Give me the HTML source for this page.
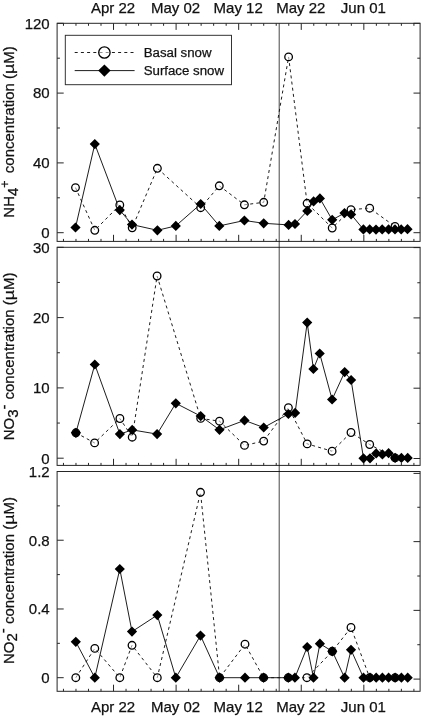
<!DOCTYPE html>
<html lang="en"><head><meta charset="utf-8"><title>Snow nutrient concentrations</title>
<style>
html,body{margin:0;padding:0;background:#fff}
body{width:422px;height:717px;overflow:hidden}
svg{display:block}
text{font-family:"Liberation Sans",Arial,Helvetica,sans-serif;fill:#111;stroke:#111;stroke-width:.25px}
.t{font-size:15px}
.lg{font-size:13.25px}
.ax{stroke:#262626;stroke-width:1.0;fill:none}
.sl{stroke:#111;stroke-width:.95;fill:none}
.dl{stroke:#111;stroke-width:.95;fill:none;stroke-dasharray:3 3.2}
.c{fill:rgba(255,255,255,.5);stroke:#000;stroke-width:1.3}
.d{fill:#000;stroke:none}
</style></head><body>
<svg width="422" height="717" viewBox="0 0 422 717">
<rect width="422" height="717" fill="#fff"/>
<g class="ax">
<rect x="57.1" y="23.3" width="363" height="218.1" fill="none"/>
<path d="M63.46 23.3v2.5M63.46 241.4v-2.5M75.97 23.3v2.5M75.97 241.4v-2.5M88.49 23.3v2.5M88.49 241.4v-2.5M101.01 23.3v2.5M101.01 241.4v-2.5M113.52 23.3v6.6M113.52 241.4v-6.6M126.04 23.3v2.5M126.04 241.4v-2.5M138.55 23.3v2.5M138.55 241.4v-2.5M151.07 23.3v2.5M151.07 241.4v-2.5M163.59 23.3v2.5M163.59 241.4v-2.5M176.1 23.3v6.6M176.1 241.4v-6.6M188.62 23.3v2.5M188.62 241.4v-2.5M201.13 23.3v2.5M201.13 241.4v-2.5M213.65 23.3v2.5M213.65 241.4v-2.5M226.17 23.3v2.5M226.17 241.4v-2.5M238.68 23.3v6.6M238.68 241.4v-6.6M251.2 23.3v2.5M251.2 241.4v-2.5M263.71 23.3v2.5M263.71 241.4v-2.5M276.23 23.3v2.5M276.23 241.4v-2.5M288.75 23.3v2.5M288.75 241.4v-2.5M301.26 23.3v6.6M301.26 241.4v-6.6M313.78 23.3v2.5M313.78 241.4v-2.5M326.29 23.3v2.5M326.29 241.4v-2.5M338.81 23.3v2.5M338.81 241.4v-2.5M351.33 23.3v2.5M351.33 241.4v-2.5M363.84 23.3v6.6M363.84 241.4v-6.6M376.36 23.3v2.5M376.36 241.4v-2.5M388.87 23.3v2.5M388.87 241.4v-2.5M401.39 23.3v2.5M401.39 241.4v-2.5M413.91 23.3v2.5M413.91 241.4v-2.5M57.1 232.7h6.6M420.1 232.7h-6.6M57.1 197.8h2.8M420.1 197.8h-2.8M57.1 162.9h6.6M420.1 162.9h-6.6M57.1 128h2.8M420.1 128h-2.8M57.1 93.1h6.6M420.1 93.1h-6.6M57.1 58.2h2.8M420.1 58.2h-2.8M57.1 23.3h6.6M420.1 23.3h-6.6"/>
</g>
<g class="ax">
<rect x="57.1" y="247.3" width="363" height="218.1" fill="none"/>
<path d="M63.46 465.4v-2.5M75.97 465.4v-2.5M88.49 465.4v-2.5M101.01 465.4v-2.5M113.52 465.4v-6.6M126.04 465.4v-2.5M138.55 465.4v-2.5M151.07 465.4v-2.5M163.59 465.4v-2.5M176.1 465.4v-6.6M188.62 465.4v-2.5M201.13 465.4v-2.5M213.65 465.4v-2.5M226.17 465.4v-2.5M238.68 465.4v-6.6M251.2 465.4v-2.5M263.71 465.4v-2.5M276.23 465.4v-2.5M288.75 465.4v-2.5M301.26 465.4v-6.6M313.78 465.4v-2.5M326.29 465.4v-2.5M338.81 465.4v-2.5M351.33 465.4v-2.5M363.84 465.4v-6.6M376.36 465.4v-2.5M388.87 465.4v-2.5M401.39 465.4v-2.5M413.91 465.4v-2.5M57.1 458.2h6.6M420.1 458.5h-6.6M57.1 423.05h2.8M420.1 423.35h-2.8M57.1 387.9h6.6M420.1 388.2h-6.6M57.1 352.75h2.8M420.1 353.05h-2.8M57.1 317.6h6.6M420.1 317.9h-6.6M57.1 282.45h2.8M420.1 282.75h-2.8M57.1 247.3h6.6M420.1 247.6h-6.6"/>
</g>
<g class="ax">
<rect x="57.1" y="471.5" width="363" height="219.8" fill="none"/>
<path d="M63.46 691.3v-2.5M75.97 691.3v-2.5M88.49 691.3v-2.5M101.01 691.3v-2.5M113.52 691.3v-6.6M126.04 691.3v-2.5M138.55 691.3v-2.5M151.07 691.3v-2.5M163.59 691.3v-2.5M176.1 691.3v-6.6M188.62 691.3v-2.5M201.13 691.3v-2.5M213.65 691.3v-2.5M226.17 691.3v-2.5M238.68 691.3v-6.6M251.2 691.3v-2.5M263.71 691.3v-2.5M276.23 691.3v-2.5M288.75 691.3v-2.5M301.26 691.3v-6.6M313.78 691.3v-2.5M326.29 691.3v-2.5M338.81 691.3v-2.5M351.33 691.3v-2.5M363.84 691.3v-6.6M376.36 691.3v-2.5M388.87 691.3v-2.5M401.39 691.3v-2.5M413.91 691.3v-2.5M57.1 677.7h6.6M420.1 679.1h-6.6M57.1 643.33h2.8M420.1 644.73h-2.8M57.1 608.97h6.6M420.1 610.37h-6.6M57.1 574.6h2.8M420.1 576h-2.8M57.1 540.23h6.6M420.1 541.63h-6.6M57.1 505.87h2.8M420.1 507.27h-2.8M57.1 471.5h6.6M420.1 473.4h-6.6"/>
</g>
<line x1="279.2" y1="23.3" x2="279.2" y2="691.3" stroke="#111" stroke-width=".78"/>
<polyline class="dl" points="75.5,187.6 94.8,230.3 119.8,205 132.2,227.8 157.4,168.3 200.7,207.7 219.3,185.8 244.4,204.8 263.7,202.3 288.6,56.9 307.1,203.3 332.2,228 351.0,209.6 369.7,208.2 395,226.5"/>
<polyline class="sl" points="75.5,227.5 94.8,144.1 119.8,210.1 132.0,224.6 157.4,230.3 175.8,225.9 200.7,204 219.3,225.9 244.4,220.5 263.7,223.3 288.6,224.9 295,224 307.3,210.9 313.6,201.4 319.9,198.4 332.2,219.8 344.5,213.1 351.1,214.4 363.4,229.4 369.7,229.4 376,229.6 382.2,229.4 388.6,229.4 395,229.4 401.2,229.4 407.5,229.2"/>
<circle class="c" cx="75.5" cy="187.6" r="3.8"/>
<circle class="c" cx="94.8" cy="230.3" r="3.8"/>
<circle class="c" cx="119.8" cy="205" r="3.8"/>
<circle class="c" cx="132.2" cy="227.8" r="3.8"/>
<circle class="c" cx="157.4" cy="168.3" r="3.8"/>
<circle class="c" cx="200.7" cy="207.7" r="3.8"/>
<circle class="c" cx="219.3" cy="185.8" r="3.8"/>
<circle class="c" cx="244.4" cy="204.8" r="3.8"/>
<circle class="c" cx="263.7" cy="202.3" r="3.8"/>
<circle class="c" cx="288.6" cy="56.9" r="3.8"/>
<circle class="c" cx="307.1" cy="203.3" r="3.8"/>
<circle class="c" cx="332.2" cy="228" r="3.8"/>
<circle class="c" cx="351.0" cy="209.6" r="3.8"/>
<circle class="c" cx="369.7" cy="208.2" r="3.8"/>
<circle class="c" cx="395" cy="226.5" r="3.8"/>
<path class="d" d="M70.4 227.5L75.5 222.4L80.6 227.5L75.5 232.6ZM89.7 144.1L94.8 139L99.9 144.1L94.8 149.2ZM114.7 210.1L119.8 205L124.9 210.1L119.8 215.2ZM126.9 224.6L132.0 219.5L137.1 224.6L132.0 229.7ZM152.3 230.3L157.4 225.2L162.5 230.3L157.4 235.4ZM170.7 225.9L175.8 220.8L180.9 225.9L175.8 231ZM195.6 204L200.7 198.9L205.8 204L200.7 209.1ZM214.2 225.9L219.3 220.8L224.4 225.9L219.3 231ZM239.3 220.5L244.4 215.4L249.5 220.5L244.4 225.6ZM258.6 223.3L263.7 218.2L268.8 223.3L263.7 228.4ZM283.5 224.9L288.6 219.8L293.7 224.9L288.6 230ZM289.9 224L295 218.9L300.1 224L295 229.1ZM302.2 210.9L307.3 205.8L312.4 210.9L307.3 216ZM308.5 201.4L313.6 196.3L318.7 201.4L313.6 206.5ZM314.8 198.4L319.9 193.3L325 198.4L319.9 203.5ZM327.1 219.8L332.2 214.7L337.3 219.8L332.2 224.9ZM339.4 213.1L344.5 208L349.6 213.1L344.5 218.2ZM346 214.4L351.1 209.3L356.2 214.4L351.1 219.5ZM358.3 229.4L363.4 224.3L368.5 229.4L363.4 234.5ZM364.6 229.4L369.7 224.3L374.8 229.4L369.7 234.5ZM370.9 229.6L376 224.5L381.1 229.6L376 234.7ZM377.1 229.4L382.2 224.3L387.3 229.4L382.2 234.5ZM383.5 229.4L388.6 224.3L393.7 229.4L388.6 234.5ZM389.9 229.4L395 224.3L400.1 229.4L395 234.5ZM396.1 229.4L401.2 224.3L406.3 229.4L401.2 234.5ZM402.4 229.2L407.5 224.1L412.6 229.2L407.5 234.3Z"/>
<polyline class="dl" points="75.9,432.8 94.6,442.9 119.9,418.5 132.2,437.2 157.1,276 200.7,418.4 219.5,421.2 244.5,445.4 263.7,441.1 288.4,407.7 307.2,443.9 332.1,451.2 351.0,432.5 369.7,444.5 395.1,457.9"/>
<polyline class="sl" points="75.9,432.8 94.8,364.5 119.9,434.1 132.2,429.9 157.1,434.1 175.8,403.3 200.7,416.1 219.5,429.8 244.5,420.4 263.7,427.5 288.4,414 295.1,412.9 307.2,322.6 313.4,369 319.7,353.5 332.1,399.5 344.7,372.1 351.1,380 363.5,458.3 370,458.3 376.2,453.4 382.4,454.4 388.6,453.2 395.1,457.9 401.4,457.9 407.7,457.9"/>
<circle class="c" cx="75.9" cy="432.8" r="3.8"/>
<circle class="c" cx="94.6" cy="442.9" r="3.8"/>
<circle class="c" cx="119.9" cy="418.5" r="3.8"/>
<circle class="c" cx="132.2" cy="437.2" r="3.8"/>
<circle class="c" cx="157.1" cy="276" r="3.8"/>
<circle class="c" cx="200.7" cy="418.4" r="3.8"/>
<circle class="c" cx="219.5" cy="421.2" r="3.8"/>
<circle class="c" cx="244.5" cy="445.4" r="3.8"/>
<circle class="c" cx="263.7" cy="441.1" r="3.8"/>
<circle class="c" cx="288.4" cy="407.7" r="3.8"/>
<circle class="c" cx="307.2" cy="443.9" r="3.8"/>
<circle class="c" cx="332.1" cy="451.2" r="3.8"/>
<circle class="c" cx="351.0" cy="432.5" r="3.8"/>
<circle class="c" cx="369.7" cy="444.5" r="3.8"/>
<circle class="c" cx="395.1" cy="457.9" r="3.8"/>
<path class="d" d="M70.8 432.8L75.9 427.7L81 432.8L75.9 437.9ZM89.7 364.5L94.8 359.4L99.9 364.5L94.8 369.6ZM114.8 434.1L119.9 429L125 434.1L119.9 439.2ZM127.1 429.9L132.2 424.8L137.3 429.9L132.2 435ZM152 434.1L157.1 429L162.2 434.1L157.1 439.2ZM170.7 403.3L175.8 398.2L180.9 403.3L175.8 408.4ZM195.6 416.1L200.7 411L205.8 416.1L200.7 421.2ZM214.4 429.8L219.5 424.7L224.6 429.8L219.5 434.9ZM239.4 420.4L244.5 415.3L249.6 420.4L244.5 425.5ZM258.6 427.5L263.7 422.4L268.8 427.5L263.7 432.6ZM283.3 414L288.4 408.9L293.5 414L288.4 419.1ZM290 412.9L295.1 407.8L300.2 412.9L295.1 418ZM302.1 322.6L307.2 317.5L312.3 322.6L307.2 327.7ZM308.3 369L313.4 363.9L318.5 369L313.4 374.1ZM314.6 353.5L319.7 348.4L324.8 353.5L319.7 358.6ZM327 399.5L332.1 394.4L337.2 399.5L332.1 404.6ZM339.6 372.1L344.7 367L349.8 372.1L344.7 377.2ZM346 380L351.1 374.9L356.2 380L351.1 385.1ZM358.4 458.3L363.5 453.2L368.6 458.3L363.5 463.4ZM364.9 458.3L370 453.2L375.1 458.3L370 463.4ZM371.1 453.4L376.2 448.3L381.3 453.4L376.2 458.5ZM377.3 454.4L382.4 449.3L387.5 454.4L382.4 459.5ZM383.5 453.2L388.6 448.1L393.7 453.2L388.6 458.3ZM390 457.9L395.1 452.8L400.2 457.9L395.1 463ZM396.3 457.9L401.4 452.8L406.5 457.9L401.4 463ZM402.6 457.9L407.7 452.8L412.8 457.9L407.7 463Z"/>
<polyline class="dl" points="75.8,677.7 94.8,648.4 119.8,677.7 132,645.3 157.3,677.7 200.5,492.3 219.6,677.7 245.0,644.2 263.6,677.7 288.3,677.7 306.9,677.7 332.3,651.3 351.0,627.5 369.7,677.7 395.1,677.7"/>
<polyline class="sl" points="75.8,641.8 94.8,677.7 119.8,569 132,631.6 157.3,615.1 175.8,677.7 200.5,635.6 219.6,677.7 245.0,677.7 263.6,677.7 288.3,677.7 294.9,677.7 307.2,647 313.5,677.7 319.9,643.7 332.3,651.3 344.6,677.7 351.0,649.8 363.5,677.7 370,677.7 376.2,677.7 382.4,677.7 388.6,677.7 395.1,677.7 401.4,677.7 407.7,677.7"/>
<circle class="c" cx="75.8" cy="677.7" r="3.8"/>
<circle class="c" cx="94.8" cy="648.4" r="3.8"/>
<circle class="c" cx="119.8" cy="677.7" r="3.8"/>
<circle class="c" cx="132" cy="645.3" r="3.8"/>
<circle class="c" cx="157.3" cy="677.7" r="3.8"/>
<circle class="c" cx="200.5" cy="492.3" r="3.8"/>
<circle class="c" cx="219.6" cy="677.7" r="3.8"/>
<circle class="c" cx="245.0" cy="644.2" r="3.8"/>
<circle class="c" cx="263.6" cy="677.7" r="3.8"/>
<circle class="c" cx="288.3" cy="677.7" r="3.8"/>
<circle class="c" cx="306.9" cy="677.7" r="3.8"/>
<circle class="c" cx="332.3" cy="651.3" r="3.8"/>
<circle class="c" cx="351.0" cy="627.5" r="3.8"/>
<circle class="c" cx="369.7" cy="677.7" r="3.8"/>
<circle class="c" cx="395.1" cy="677.7" r="3.8"/>
<path class="d" d="M70.7 641.8L75.8 636.7L80.9 641.8L75.8 646.9ZM89.7 677.7L94.8 672.6L99.9 677.7L94.8 682.8ZM114.7 569L119.8 563.9L124.9 569L119.8 574.1ZM126.9 631.6L132 626.5L137.1 631.6L132 636.7ZM152.2 615.1L157.3 610L162.4 615.1L157.3 620.2ZM170.7 677.7L175.8 672.6L180.9 677.7L175.8 682.8ZM195.4 635.6L200.5 630.5L205.6 635.6L200.5 640.7ZM214.5 677.7L219.6 672.6L224.7 677.7L219.6 682.8ZM239.9 677.7L245.0 672.6L250.1 677.7L245.0 682.8ZM258.5 677.7L263.6 672.6L268.7 677.7L263.6 682.8ZM283.2 677.7L288.3 672.6L293.4 677.7L288.3 682.8ZM289.8 677.7L294.9 672.6L300 677.7L294.9 682.8ZM302.1 647L307.2 641.9L312.3 647L307.2 652.1ZM308.4 677.7L313.5 672.6L318.6 677.7L313.5 682.8ZM314.8 643.7L319.9 638.6L325 643.7L319.9 648.8ZM327.2 651.3L332.3 646.2L337.4 651.3L332.3 656.4ZM339.5 677.7L344.6 672.6L349.7 677.7L344.6 682.8ZM345.9 649.8L351.0 644.7L356.1 649.8L351.0 654.9ZM358.4 677.7L363.5 672.6L368.6 677.7L363.5 682.8ZM364.9 677.7L370 672.6L375.1 677.7L370 682.8ZM371.1 677.7L376.2 672.6L381.3 677.7L376.2 682.8ZM377.3 677.7L382.4 672.6L387.5 677.7L382.4 682.8ZM383.5 677.7L388.6 672.6L393.7 677.7L388.6 682.8ZM390 677.7L395.1 672.6L400.2 677.7L395.1 682.8ZM396.3 677.7L401.4 672.6L406.5 677.7L401.4 682.8ZM402.6 677.7L407.7 672.6L412.8 677.7L407.7 682.8Z"/>
<g>
<rect x="65.3" y="35.3" width="166.2" height="49.4" fill="#fff" stroke="#2a2a2a" stroke-width=".95"/>
<line class="dl" x1="74.7" y1="52.5" x2="134.6" y2="52.5"/>
<line class="sl" x1="74.7" y1="70.6" x2="134.6" y2="70.6"/>
<circle class="c" cx="104.4" cy="52.5" r="5.7"/>
<path class="d" d="M98.2 70.6L104.4 64.39999999999999L110.60000000000001 70.6L104.4 76.8Z"/>
<text class="lg" x="143.7" y="57">Basal snow</text>
<text class="lg" x="143.7" y="75">Surface snow</text>
</g>
<text class="t" text-anchor="middle" x="113.02" y="12.7">Apr 22</text>
<text class="t" text-anchor="middle" x="113.02" y="711.9">Apr 22</text>
<text class="t" text-anchor="middle" x="175.6" y="12.7">May 02</text>
<text class="t" text-anchor="middle" x="175.6" y="711.9">May 02</text>
<text class="t" text-anchor="middle" x="238.18" y="12.7">May 12</text>
<text class="t" text-anchor="middle" x="238.18" y="711.9">May 12</text>
<text class="t" text-anchor="middle" x="300.76" y="12.7">May 22</text>
<text class="t" text-anchor="middle" x="300.76" y="711.9">May 22</text>
<text class="t" text-anchor="middle" x="363.34" y="12.7">Jun 01</text>
<text class="t" text-anchor="middle" x="363.34" y="711.9">Jun 01</text>
<text class="t" text-anchor="end" x="49.7" y="238">0</text>
<text class="t" text-anchor="end" x="49.7" y="168.2">40</text>
<text class="t" text-anchor="end" x="49.7" y="98.4">80</text>
<text class="t" text-anchor="end" x="49.7" y="28.6">120</text>
<text class="t" text-anchor="end" x="49.7" y="463.5">0</text>
<text class="t" text-anchor="end" x="49.7" y="393.2">10</text>
<text class="t" text-anchor="end" x="49.7" y="322.9">20</text>
<text class="t" text-anchor="end" x="49.7" y="252.6">30</text>
<text class="t" text-anchor="end" x="49.7" y="683">0</text>
<text class="t" text-anchor="end" x="49.7" y="614.27">0.4</text>
<text class="t" text-anchor="end" x="49.7" y="545.53">0.8</text>
<text class="t" text-anchor="end" x="49.7" y="476.8">1.2</text>
<text class="t" transform="translate(14.1 217.7) rotate(-90)">NH<tspan dy="3.6">4</tspan><tspan dy="-8.5" style="font-size:12.5px">+</tspan><tspan dy="4.9" dx="3.0"> concentration (<tspan textLength="10.3" lengthAdjust="spacingAndGlyphs">µ</tspan>M)</tspan></text>
<text class="t" transform="translate(14.2 440.3) rotate(-90)">NO<tspan dy="3.6">3</tspan><tspan dy="-9.3">-</tspan><tspan dy="5.7" dx="0.8"> concentration (<tspan textLength="10.3" lengthAdjust="spacingAndGlyphs">µ</tspan>M)</tspan></text>
<text class="t" transform="translate(13.8 664.1) rotate(-90)">NO<tspan dy="3.6">2</tspan><tspan dy="-9.7">-</tspan><tspan dy="6.1" dx="0"> concentration (<tspan textLength="10.3" lengthAdjust="spacingAndGlyphs">µ</tspan>M)</tspan></text>
</svg>
</body></html>
